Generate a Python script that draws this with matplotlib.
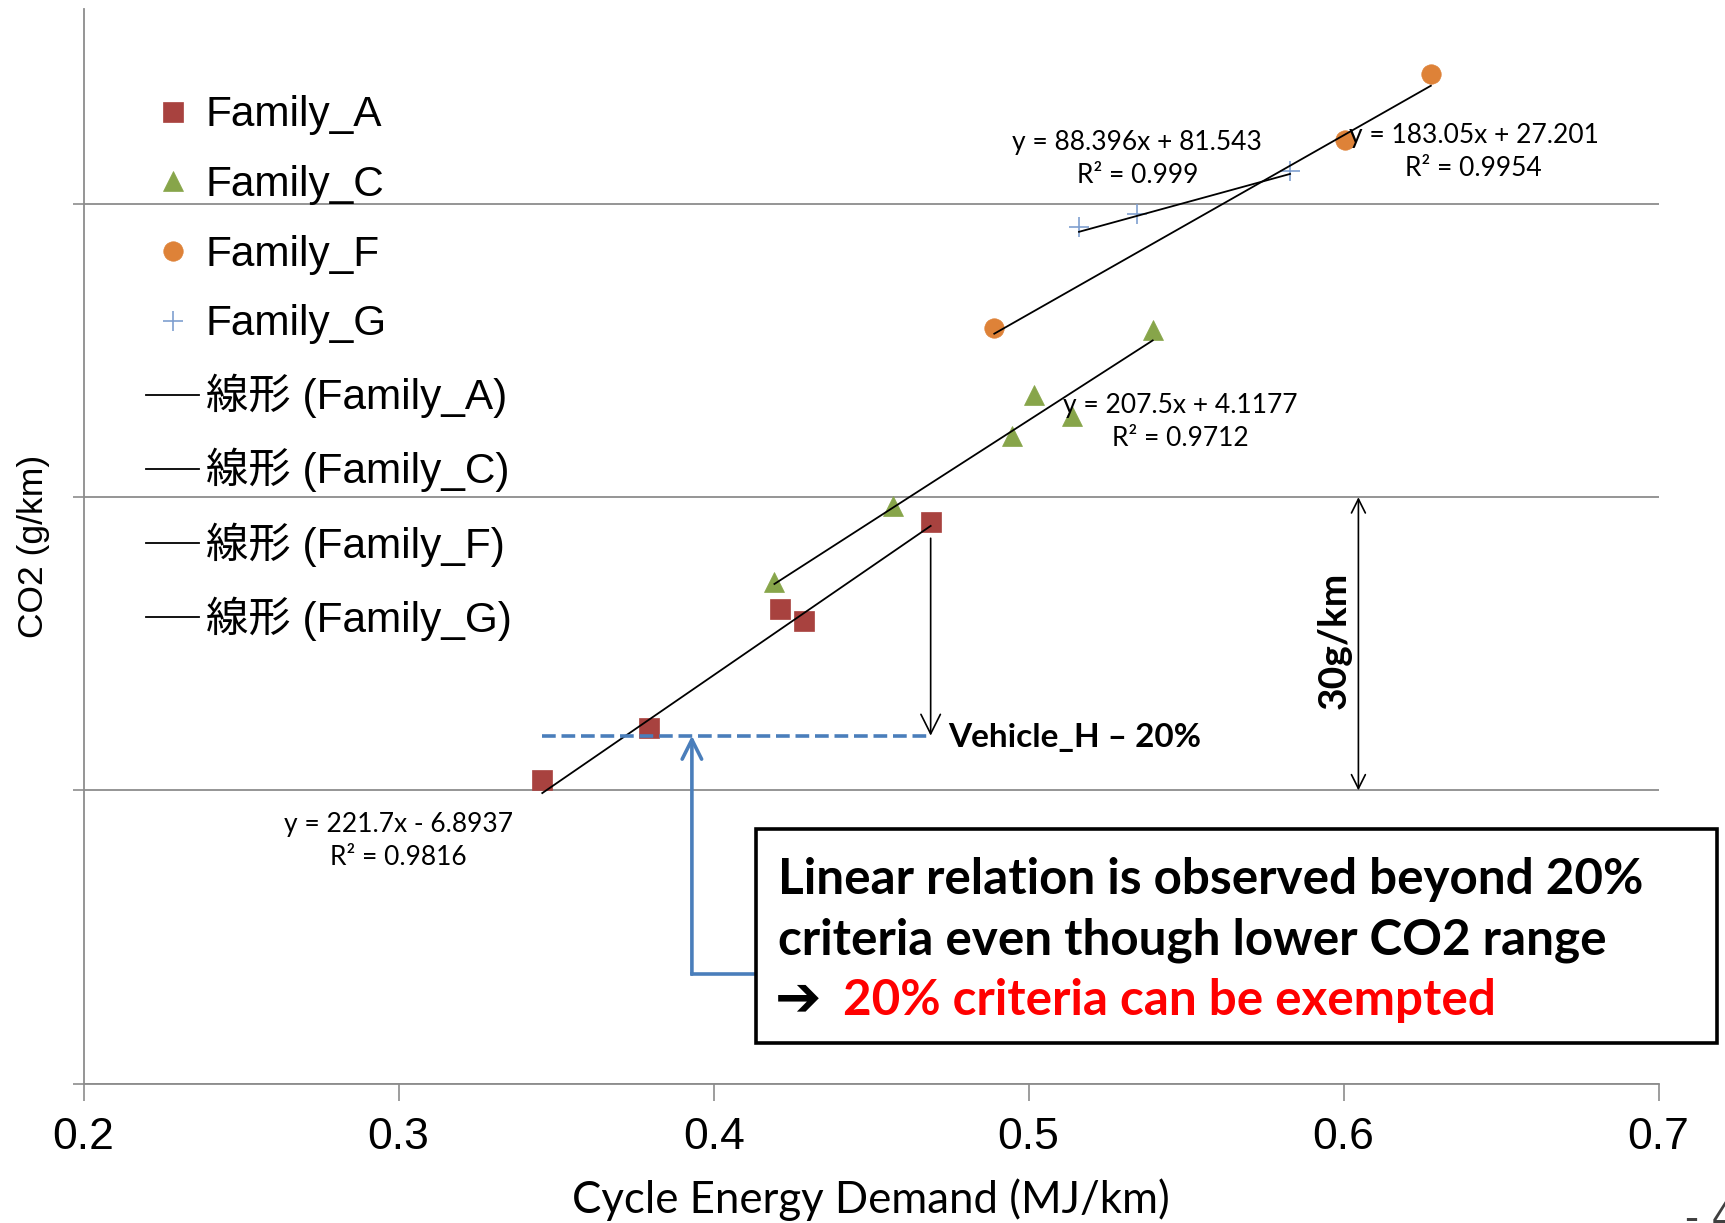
import numpy as np
import matplotlib.pyplot as plt
from matplotlib.patches import Rectangle

# data (x: MJ/km, y: g/km)
a_x = [0.3456, 0.3795, 0.421, 0.4287, 0.4689]
a_y = [71.1, 76.4, 88.6, 87.3, 97.5]
c_x = [0.4193, 0.457, 0.4947, 0.5017, 0.5139, 0.5394]
c_y = [91.3, 99.1, 106.3, 110.5, 108.3, 117.1]
f_x = [0.4891, 0.6005, 0.6277]
f_y = [117.3, 136.5, 143.3]
g_x = [0.516, 0.5345, 0.583]
g_y = [127.6, 129.0, 133.4]

families = ['Family_A', 'Family_C', 'Family_F', 'Family_G']
slopes = [221.7, 207.5, 183.05, 88.396]
intercepts = [-6.8937, 4.1177, 27.201, 81.543]
eq_labels = ['y = 221.7x - 6.8937\nR² = 0.9816',
             'y = 207.5x + 4.1177\nR² = 0.9712',
             'y = 183.05x + 27.201\nR² = 0.9954',
             'y = 88.396x + 81.543\nR² = 0.999']
vehicle_h_20 = 75.6

xs_all = [a_x, c_x, f_x, g_x]
ys_all = [a_y, c_y, f_y, g_y]
markers = ['s', '^', 'o', '+']
colors = ['#A8423F', '#87A54A', '#DE8238', '#7F9FD0']
msizes = [14, 15, 14, 15]

blue = '#4A7EBB'
grid_c = '#8C8C8C'
sans = ['Liberation Sans', 'Noto Sans CJK JP']

fig = plt.figure(figsize=(17.25, 12.23), dpi=100)
ax = fig.add_axes([0.0485, 0.114, 0.913, 0.879])

pt_handles = []
for x, y, m, c, s, name in zip(xs_all, ys_all, markers, colors, msizes, families):
    h, = ax.plot(x, y, linestyle='none', marker=m, color=c, markersize=s,
                 markeredgewidth=1.2 if m == '+' else 0.5, label=name, zorder=3)
    pt_handles.append(h)

line_handles = []
for x, k, b, name in zip(xs_all, slopes, intercepts, families):
    xx = np.array([min(x), max(x)])
    h, = ax.plot(xx, k * xx + b, color='black', lw=1.3, zorder=4,
                 label='線形 (' + name + ')')
    line_handles.append(h)

# trendline equations
eq_pos = [(0.2999, 64.8), (0.5481, 107.7), (0.6413, 135.3), (0.5345, 134.6)]
for (px, py), t in zip(eq_pos, eq_labels):
    ax.text(px, py, t, ha='center', va='center', fontsize=19, family='Lato',
            linespacing=1.4, zorder=5)

# Vehicle_H - 20% markings
ax.plot([min(a_x), max(a_x)], [vehicle_h_20, vehicle_h_20], color=blue, lw=2.6,
        dashes=(3.8, 1.6), zorder=5)
ax.annotate('', xy=(max(a_x), vehicle_h_20), xytext=(max(a_x), 95.8),
            arrowprops=dict(arrowstyle='->', color='black', lw=1.2,
                            mutation_scale=35, shrinkA=0, shrinkB=0))
ax.text(0.4744, vehicle_h_20 - 0.2, 'Vehicle_H – 20%', fontsize=24, family='Lato',
        fontweight='bold', va='center', ha='left')

# blue connector from box
ax.plot([0.4133, 0.3931], [51.2, 51.2], color=blue, lw=2.6, zorder=5)
ax.annotate('', xy=(0.3931, vehicle_h_20), xytext=(0.3931, 51.2),
            arrowprops=dict(arrowstyle='->', color=blue, lw=2.6,
                            mutation_scale=35, shrinkA=0, shrinkB=0))

# 30 g/km span
ax.annotate('', xy=(0.6047, 70), xytext=(0.6047, 100),
            arrowprops=dict(arrowstyle='<->', color='black', lw=1.2,
                            mutation_scale=25, shrinkA=0, shrinkB=0))
ax.text(0.597, 85.3, '30g/km', rotation=90, fontsize=28, family='Lato',
        fontweight='bold', ha='center', va='center')

ax.set_xlim(0.2, 0.7)
ax.set_ylim(40, 150)
ax.set_xticks([0.2, 0.3, 0.4, 0.5, 0.6, 0.7])
ax.set_xticklabels(['0.2', '0.3', '0.4', '0.5', '0.6', '0.7'])
ax.set_yticks([40, 70, 100, 130])
ax.set_yticklabels([])
ax.tick_params(axis='x', length=12, width=1.2, color=grid_c, labelsize=32, pad=12)
ax.tick_params(axis='y', length=8, width=1.2, color=grid_c)
for lab in ax.get_xticklabels():
    lab.set_family('Liberation Sans')
ax.yaxis.grid(True, color=grid_c, lw=1.3)
ax.set_axisbelow(True)
for s in ['top', 'right']:
    ax.spines[s].set_visible(False)
for s in ['left', 'bottom']:
    ax.spines[s].set_color(grid_c)
    ax.spines[s].set_linewidth(1.3)

ax.set_xlabel('Cycle Energy Demand (MJ/km)', fontsize=31.5, family='Lato', labelpad=15)
ax.set_ylabel('CO2 (g/km)', fontsize=25.5, family='Liberation Sans', labelpad=13)

leg = ax.legend(handles=pt_handles + line_handles, loc='upper left',
                bbox_to_anchor=(0.0848, 0.922), bbox_transform=fig.transFigure,
                frameon=False, prop={'family': sans, 'size': 30.5},
                handlelength=1.25, handletextpad=0.15, labelspacing=0.7,
                borderpad=0, borderaxespad=0)

# conclusion box
box = Rectangle((0.438, 0.1475), 0.5575, 0.1745, transform=fig.transFigure,
                facecolor='white', edgecolor='black', lw=2.6, zorder=10)
fig.add_artist(box)
fig.text(0.451, 0.2806, 'Linear relation is observed beyond 20%', fontsize=35.6,
         family='Lato', fontweight='bold', va='center', zorder=11)
fig.text(0.451, 0.2311, 'criteria even though lower CO2 range', fontsize=35.6,
         family='Lato', fontweight='bold', va='center', zorder=11)
fig.text(0.449, 0.1817, '➔', fontsize=40, family='DejaVu Sans', fontweight='bold',
         va='center', zorder=11)
fig.text(0.4885, 0.1817, '20% criteria can be exempted', fontsize=35.6, color='red',
         family='Lato', fontweight='bold', va='center', zorder=11)

fig.text(0.977, -0.012, '- 4', fontsize=28, color='#404040', va='bottom')

fig.savefig('out.png', dpi=100)
